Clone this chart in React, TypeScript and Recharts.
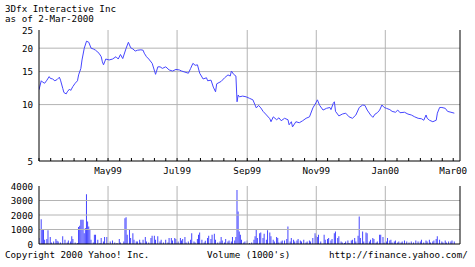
import React from 'react';
import { LineChart, Line, BarChart, Bar, XAxis, YAxis, ReferenceLine } from 'recharts';

const FONT = '"DejaVu Sans Mono", "Liberation Mono", monospace';
const FS = 9.5;
const CH = 5.55;

// x values are days counted from 1 Mar 1999
const monthStarts = [0, 31, 61, 92, 122, 153, 184, 214, 245, 275, 306, 337, 366];
const labelDays = [61, 122, 184, 245, 306, 366];
const labelText = ['May99', 'Jul99', 'Sep99', 'Nov99', 'Jan00', 'Mar00'];
const gridDays = [61, 122, 184, 245, 306];

const priceTicks = [5, 10, 15, 20, 25];
const priceGrid = [10, 15, 20];
const volTicks = [0, 1000, 2000, 3000, 4000];
const volGrid = [1000, 2000, 3000];

const priceDay = [
  0, 2, 3, 5, 7, 9, 10, 12, 14, 16, 18, 19, 21, 22, 24, 25, 27, 28, 30, 32, 34, 35, 37, 38, 40, 42, 44, 46, 48, 50,
  53, 55, 56, 57, 59, 62, 65, 68, 70, 72, 74, 77, 79, 81, 83, 85, 87, 90, 92, 93, 95, 97, 100, 103, 105, 107, 109,
  112, 115, 118, 121, 124, 126, 129, 132, 134, 136, 138, 140, 142, 145, 148, 149, 152, 154, 156, 157, 161, 164, 167,
  169, 170, 172, 174, 175, 176, 177, 180, 183, 186, 189, 192, 194, 196, 198, 201, 204, 205, 207, 210, 212, 214, 217,
  220, 221, 223, 224, 227, 230, 233, 236, 239, 242, 245, 246, 248, 251, 254, 257, 258, 260, 261, 262, 265, 268, 271,
  274, 277, 280, 283, 286, 288, 290, 293, 295, 297, 299, 301, 303, 305, 307, 310, 312, 315, 317, 319, 323, 326, 329,
  332, 335, 338, 340, 342, 343, 345, 348, 351, 352, 354, 356, 359, 361, 364, 367,
];
const priceClose = [
  12.0, 13.4, 13.2, 13.0, 13.5, 14.1, 13.8, 13.7, 13.4, 13.6, 14.0, 13.5, 12.2, 11.6, 11.4, 11.7, 12.1, 11.9, 12.5,
  13.0, 13.4, 14.4, 15.6, 17.3, 20.0, 21.8, 21.5, 20.0, 19.8, 19.5, 18.8, 18.0, 16.9, 16.3, 17.5, 17.3, 17.5, 18.0,
  17.5, 18.5, 17.6, 20.0, 21.5, 20.1, 19.8, 19.3, 19.5, 19.6, 19.5, 18.8, 18.0, 17.5, 16.6, 14.5, 15.9, 15.9, 15.6,
  15.9, 15.3, 15.1, 15.4, 15.3, 15.1, 14.9, 14.7, 15.6, 16.6, 16.2, 16.3, 14.7, 13.7, 13.9, 13.4, 13.5, 12.4, 11.7,
  12.9, 13.3, 13.9, 14.4, 14.2, 15.1, 14.5, 14.2, 10.35, 11.25, 11.0, 11.1, 11.0, 10.8, 10.6, 9.6, 9.9, 9.6, 9.2, 8.8,
  8.4, 8.1, 8.6, 8.3, 8.5, 8.2, 8.45, 8.3, 7.8, 8.1, 7.6, 8.1, 8.0, 8.2, 8.45, 8.6, 9.6, 10.3, 10.6, 9.9, 9.35, 9.55,
  9.65, 9.4, 10.15, 10.35, 9.2, 8.7, 8.9, 9.0, 8.6, 8.45, 8.8, 9.65, 9.95, 9.9, 9.35, 8.8, 8.55, 8.9, 9.05, 9.35, 9.95,
  9.65, 9.55, 9.4, 9.2, 9.1, 9.35, 9.05, 9.1, 8.9, 8.8, 8.6, 8.45, 8.4, 8.25, 8.8, 8.45, 8.25, 8.1, 8.25, 9.0, 9.65,
  9.65, 9.55, 9.2, 9.1, 9.0,
];

const volDay = [
  0, 2, 3, 4, 5, 7, 8, 10, 11, 13, 15, 16, 17, 19, 21, 23, 25, 26, 28, 29, 30, 32, 34, 35, 36, 37, 38, 39, 40, 41, 42,
  43, 44, 45, 46, 48, 49, 50, 52, 54, 55, 57, 58, 60, 61, 63, 65, 67, 69, 71, 72, 75, 76, 77, 78, 80, 81, 83, 84, 86,
  87, 89, 90, 92, 94, 95, 97, 99, 100, 102, 103, 105, 107, 108, 110, 112, 114, 115, 117, 118, 120, 121, 122, 123, 125,
  126, 127, 129, 130, 132, 134, 135, 137, 138, 140, 141, 142, 144, 146, 147, 149, 150, 152, 153, 155, 156, 158, 160,
  161, 162, 164, 165, 167, 168, 170, 171, 173, 174, 175, 176, 177, 178, 179, 181, 182, 184, 186, 188, 190, 191, 192,
  193, 195, 196, 198, 199, 201, 202, 204, 205, 207, 208, 210, 211, 212, 214, 215, 217, 219, 220, 222, 223, 225, 226,
  228, 229, 231, 232, 234, 236, 237, 239, 240, 242, 244, 245, 246, 247, 249, 252, 253, 255, 256, 258, 259, 261, 262,
  264, 265, 267, 268, 270, 271, 273, 274, 276, 277, 279, 280, 282, 283, 284, 286, 287, 289, 290, 292, 293, 295, 296,
  298, 299, 301, 302, 304, 305, 307, 308, 310, 311, 312, 314, 315, 317, 318, 320, 321, 323, 325, 327, 329, 331, 333,
  335, 337, 338, 340, 342, 343, 345, 346, 348, 349, 351, 352, 354, 356, 357, 359, 360, 362, 364, 365, 367,
];
const volume = [
  410, 1710, 1030, 1030, 300, 340, 940, 480, 110, 180, 340, 230, 180, 110, 530, 300, 110, 250, 180, 530, 340, 110, 70,
  1170, 1260, 1670, 1670, 1670, 750, 1100, 3430, 1550, 1210, 980, 300, 110, 640, 640, 300, 70, 410, 180, 480, 480, 70,
  180, 250, 110, 70, 340, 110, 180, 1780, 1850, 640, 1030, 410, 750, 300, 180, 180, 300, 110, 300, 480, 180, 110, 410,
  570, 570, 300, 530, 180, 300, 110, 300, 110, 410, 410, 250, 410, 340, 110, 180, 410, 250, 340, 480, 110, 180, 300,
  750, 180, 110, 340, 640, 800, 300, 110, 230, 410, 570, 340, 640, 710, 300, 110, 180, 480, 250, 110, 340, 180, 250,
  180, 480, 250, 480, 3730, 2240, 870, 640, 300, 110, 180, 250, 70, 110, 300, 530, 980, 410, 750, 800, 410, 710, 300,
  940, 800, 530, 300, 180, 480, 410, 110, 180, 250, 250, 340, 1210, 180, 410, 300, 180, 250, 340, 250, 180, 300, 110,
  180, 250, 180, 410, 750, 570, 480, 640, 180, 640, 300, 340, 410, 250, 340, 750, 870, 410, 530, 180, 110, 70, 180, 250,
  70, 250, 300, 410, 180, 570, 1900, 410, 870, 180, 800, 750, 180, 300, 410, 340, 110, 180, 640, 640, 480, 110, 180,
  410, 250, 300, 110, 180, 250, 110, 180, 110, 180, 250, 180, 110, 180, 110, 250, 180, 180, 300, 110, 250, 180, 300,
  110, 180, 250, 340, 530, 300, 180, 110, 250, 110, 180, 180, 250, 180,
];

const dayTicks = monthStarts.flatMap((d, i) => {
  const next = monthStarts[i + 1];
  if (next === undefined) return [d];
  return [d, d + (next - d) / 3, d + (2 * (next - d)) / 3];
});

const priceData = priceDay.map((day, i) => ({ day, close: priceClose[i] }));
const volData = volDay.map((day, i) => ({ day, vol: volume[i] }));

const DateTick = (props: any) => {
  const { x, y, payload } = props;
  const i = labelDays.indexOf(payload.value);
  if (i < 0) return <g />;
  const s = labelText[i];
  return (
    <text x={x} y={y + 13} textAnchor="middle" fontFamily={FONT} fontSize={FS} fill="#000"
      textLength={s.length * CH} lengthAdjust="spacingAndGlyphs">{s}</text>
  );
};

const NumTick = (props: any) => {
  const { x, y, payload } = props;
  const s = String(payload.value);
  return (
    <text x={x} y={y + 3.5} textAnchor="end" fontFamily={FONT} fontSize={FS} fill="#000"
      textLength={s.length * CH} lengthAdjust="spacingAndGlyphs">{s}</text>
  );
};

const GRID = '#b4b4b4';
const BLUE = '#4646ff';

const Label = ({ x, y, s }: { x: number; y: number; s: string }) => (
  <text x={x} y={y} fontFamily={FONT} fontSize={FS} fill="#000" textLength={s.length * CH} lengthAdjust="spacingAndGlyphs">
    {s}
  </text>
);

export default function App() {
  const axisCommon = { stroke: '#000', axisLine: { stroke: '#000' }, tickLine: { stroke: '#000' } };
  return (
    <div style={{ position: 'absolute', left: 0, top: 0, width: 475, height: 267, background: '#fff' }}>
      <div style={{ position: 'absolute', left: 0, top: 0 }}>
        <LineChart width={475} height={175} data={priceData} margin={{ top: 30, right: 0, bottom: 0, left: 0 }}>
          <XAxis xAxisId="b" dataKey="day" type="number" domain={[0, 372]} ticks={dayTicks} interval={0}
            height={14} tickSize={-3} tickMargin={3} tick={DateTick} allowDataOverflow {...axisCommon} />
          <XAxis xAxisId="t" orientation="top" dataKey="day" type="number" domain={[0, 372]} ticks={dayTicks}
            interval={0} height={0} tickSize={-3} tick={false} allowDataOverflow {...axisCommon} />
          <YAxis yAxisId="l" scale="log" domain={[5, 25]} ticks={priceTicks} interval={0} width={39} tickSize={0}
            tickMargin={6} tickLine={false} tick={NumTick} allowDataOverflow stroke="#000" axisLine={{ stroke: '#000' }} />
          <YAxis yAxisId="r" orientation="right" scale="log" domain={[5, 25]} ticks={priceTicks} interval={0}
            width={15} tickSize={-3} tick={false} allowDataOverflow {...axisCommon} />
          {gridDays.map((d) => (
            <ReferenceLine key={'v' + d} xAxisId="b" yAxisId="l" x={d} stroke={GRID} strokeWidth={1} />
          ))}
          {priceGrid.map((v) => (
            <ReferenceLine key={'h' + v} xAxisId="b" yAxisId="l" y={v} stroke={GRID} strokeWidth={1} />
          ))}
          <Line xAxisId="b" yAxisId="l" type="linear" dataKey="close" stroke={BLUE} strokeWidth={1} dot={false}
            isAnimationActive={false} />
        </LineChart>
      </div>
      <div style={{ position: 'absolute', left: 0, top: 175 }}>
        <BarChart width={475} height={92} data={volData} margin={{ top: 11, right: 0, bottom: 0, left: 0 }}>
          <XAxis xAxisId="b" dataKey="day" type="number" domain={[0, 372]} ticks={dayTicks} interval={0}
            height={23} tickSize={-3} tick={false} allowDataOverflow {...axisCommon} />
          <XAxis xAxisId="t" orientation="top" dataKey="day" type="number" domain={[0, 372]} ticks={dayTicks}
            interval={0} height={0} tickSize={-3} tick={false} allowDataOverflow {...axisCommon} />
          <YAxis yAxisId="l" domain={[0, 4000]} ticks={volTicks} interval={0} width={39} tickSize={0} tickMargin={6}
            tickLine={false} tick={NumTick} allowDataOverflow stroke="#000" axisLine={{ stroke: '#000' }} />
          <YAxis yAxisId="r" orientation="right" domain={[0, 4000]} ticks={volTicks} interval={0} width={15}
            tickSize={-3} tick={false} allowDataOverflow {...axisCommon} />
          {gridDays.map((d) => (
            <ReferenceLine key={'v' + d} xAxisId="b" yAxisId="l" x={d} stroke={GRID} strokeWidth={1} />
          ))}
          {volGrid.map((v) => (
            <ReferenceLine key={'h' + v} xAxisId="b" yAxisId="l" y={v} stroke={GRID} strokeWidth={1} />
          ))}
          <Bar xAxisId="b" yAxisId="l" dataKey="vol" fill={BLUE} barSize={1} isAnimationActive={false} />
        </BarChart>
      </div>
      <svg width={475} height={267} style={{ position: 'absolute', left: 0, top: 0, pointerEvents: 'none' }}>
        <Label x={5} y={12} s="3Dfx Interactive Inc" />
        <Label x={5} y={22} s="as of 2-Mar-2000" />
        <Label x={5} y={258} s="Copyright 2000 Yahoo! Inc." />
        <Label x={207} y={258} s="Volume (1000's)" />
        <Label x={329} y={258} s="http://finance.yahoo.com/" />
      </svg>
    </div>
  );
}
